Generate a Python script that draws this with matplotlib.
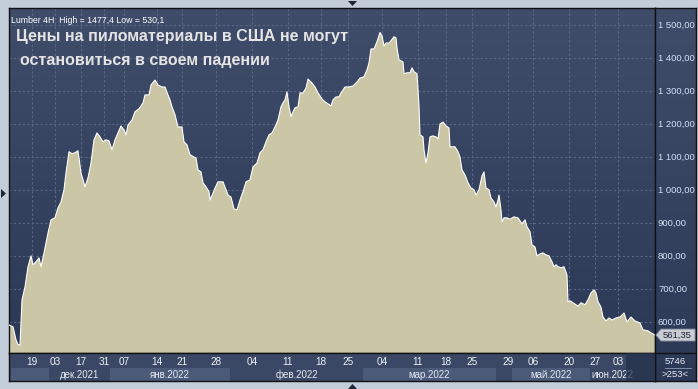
import numpy as np
import matplotlib
matplotlib.use("Agg")
import matplotlib.pyplot as plt
from matplotlib.colors import LinearSegmentedColormap
from matplotlib.patches import Polygon, Rectangle

plt.rcParams['font.family'] = ['Liberation Sans', 'DejaVu Sans']

# 4H bars (bar offset from left edge of chart) and close price
bar = [0, 4, 7, 9, 11, 13, 16, 19, 22, 24, 27, 30, 32, 35, 39, 42, 46, 49, 52, 55,
       57, 60, 63, 66, 69, 72, 76, 79, 82, 85, 88, 91, 94, 97, 100, 103, 106, 109,
       112, 115, 117, 119, 123, 126, 130, 134, 136, 140, 142, 146, 149, 153, 156,
       159, 161, 163, 166, 169, 173, 175, 178, 181, 185, 187, 189, 192, 194, 197,
       200, 201, 204, 206, 209, 214, 217, 219, 222, 225, 228, 231, 234, 237, 241,
       244, 248, 251, 254, 257, 260, 263, 266, 269, 272, 274, 276, 278, 280, 282,
       284, 286, 289, 291, 294, 297, 299, 303, 306, 309, 313, 316, 319, 322, 324,
       327, 330, 332, 336, 340, 344, 348, 351, 355, 358, 360, 362, 365, 368, 371,
       373, 375, 377, 380, 382, 385, 387, 388, 390, 394, 395, 398, 401, 403, 405,
       408, 410, 411, 414, 415, 417, 419, 421, 424, 427, 429, 431, 434, 437, 440,
       441, 446, 449, 451, 453, 456, 459, 462, 465, 467, 470, 473, 475, 477, 480,
       482, 485, 487, 489, 490, 492, 493, 495, 498, 501, 505, 509, 513, 516, 518,
       521, 523, 526, 528, 531, 534, 537, 540, 543, 545, 547, 549, 552, 555, 558,
       559, 561, 564, 569, 572, 576, 579, 582, 585, 587, 589, 592, 594, 597, 600,
       603, 607, 611, 615, 618, 622, 626, 631, 634, 639, 642, 646]
price = [592, 586, 547, 533, 530, 668, 707, 768, 801, 774, 783, 795, 768, 810,
         870, 910, 916, 946, 964, 1001, 1052, 1116, 1110, 1113, 1119, 1052, 1010,
         1037, 1082, 1152, 1173, 1161, 1146, 1152, 1149, 1122, 1152, 1173, 1194,
         1182, 1167, 1197, 1212, 1237, 1246, 1264, 1288, 1288, 1318, 1333, 1318,
         1312, 1312, 1288, 1273, 1252, 1228, 1191, 1191, 1146, 1137, 1107, 1100,
         1097, 1061, 1055, 1022, 1010, 995, 970, 991, 1006, 1025, 1025, 1001, 985,
         979, 943, 940, 970, 995, 1025, 1031, 1070, 1082, 1113, 1122, 1146, 1167,
         1173, 1191, 1212, 1252, 1264, 1273, 1297, 1252, 1222, 1237, 1249, 1252,
         1294, 1294, 1309, 1336, 1324, 1312, 1294, 1276, 1267, 1261, 1255, 1273,
         1282, 1282, 1294, 1312, 1312, 1315, 1327, 1339, 1343, 1364, 1385, 1427,
         1427, 1449, 1477, 1467, 1436, 1445, 1445, 1452, 1464, 1461, 1430, 1394,
         1388, 1352, 1355, 1355, 1370, 1358, 1352, 1255, 1167, 1161, 1122, 1082,
         1113, 1161, 1164, 1161, 1155, 1200, 1206, 1194, 1188, 1131, 1131, 1116,
         1100, 1061, 1046, 1022, 1006, 1001, 985, 1001, 1043, 1055, 1006, 1001,
         976, 964, 949, 970, 985, 940, 904, 916, 916, 912, 919, 916, 898, 910, 889,
         874, 834, 828, 801, 807, 810, 804, 801, 783, 768, 774, 768, 765, 768, 743,
         662, 665, 659, 649, 659, 653, 668, 689, 698, 689, 662, 646, 616, 604, 613,
         607, 613, 616, 628, 601, 616, 604, 598, 577, 574, 568, 561.35]

tick_pos = [23, 46, 72, 95, 115, 148, 173, 207, 243, 279, 312, 339, 373, 409, 437,
            463, 499, 524, 560, 586, 609]
tick_lab = ['19', '03', '17', '31', '07', '14', '21', '28', '04', '11', '18', '25',
            '04', '11', '18', '25', '29', '06', '20', '27', '03']
month_edges = [2, 40, 101, 221, 354, 487, 503, 581, 646]
month_lab = ['', 'дек.2021', 'янв.2022', 'фев.2022', 'мар.2022', '', 'май.2022', 'июн.2022']
y_ticks = [600, 700, 800, 900, 1000, 1100, 1200, 1300, 1400, 1500]

W, H = 698, 389


def box(x0, y0, x1, y1):
    return [x0 / W, 1 - y1 / H, (x1 - x0) / W, (y1 - y0) / H]


def fxy(x, y):
    return (x / W, 1 - y / H)


fig = plt.figure(figsize=(W / 100, H / 100), dpi=100, facecolor='#c3ccd9')
grad = LinearSegmentedColormap.from_list('bg', ['#2b3856', '#3f4c6a'])
g = np.linspace(0, 1, 256).reshape(-1, 1)

# main chart
ax = fig.add_axes(box(9, 8, 655, 353))
ax.imshow(g, cmap=grad, extent=[0, 1, 0, 1], transform=ax.transAxes,
          aspect='auto', origin='lower', zorder=0)
ax.set_xlim(0, 646)
ax.set_ylim(507, 1551)
for v in y_ticks:
    ax.axhline(v, color='#5a6784', lw=0.8, ls=(0, (2, 2)), zorder=1)
for t in tick_pos:
    ax.axvline(t, color='#5a6784', lw=0.8, ls=(0, (2, 2)), zorder=1)
ax.fill_between(bar, price, 0, color='#cbc6a5', lw=0, zorder=2)
ax.plot(bar, price, color='white', lw=0.8, zorder=3)
ax.set_xticks([])
ax.set_yticks([])
for s in ax.spines.values():
    s.set_color('#111111')
    s.set_linewidth(1)

ax.text(0.003, 0.978, 'Lumber 4H  High = 1477,4 Low = 530,1', transform=ax.transAxes,
        color='white', fontsize=6.3, va='top', ha='left', zorder=5)
ax.text(7 / 646, 1 - 28 / 345, 'Цены на пиломатериалы в США не могут',
        transform=ax.transAxes, color='#e4e4e4', fontsize=11.5, fontweight='bold',
        va='center', ha='left', zorder=5)
ax.text(11 / 646, 1 - 53 / 345, 'остановиться в своем падении',
        transform=ax.transAxes, color='#e4e4e4', fontsize=11.5, fontweight='bold',
        va='center', ha='left', zorder=5)

# right price scale
rax = fig.add_axes(box(655, 8, 696, 381))
rax.imshow(g, cmap=grad, extent=[0, 1, 0, 1], transform=rax.transAxes,
           aspect='auto', origin='lower', zorder=0)
rax.set_xlim(0, 41)
rax.set_ylim(507 - 28 * 3.027, 1551)
rax.set_xticks([])
rax.set_yticks([])
for s in rax.spines.values():
    s.set_color('#111111')
    s.set_linewidth(1)
for v in y_ticks:
    lab = f'{v:,.2f}'.replace(',', ' ').replace('.', ',')
    rax.text(3, v, lab, color='#d2e2f6', fontsize=6.8, va='center', ha='left')
last = price[-1]
rax.add_patch(Polygon([(1, last), (6, last + 18), (40, last + 18), (40, last - 18),
                       (6, last - 18)], closed=True, facecolor='#c9ccd3',
                      edgecolor='#8a93a3', lw=0.6, zorder=3))
rax.text(22.5, last, f'{last:.2f}'.replace('.', ','), color='#1b2233', fontsize=6.8,
         va='center', ha='center', zorder=4)
rax.axhline(507, color='#111111', lw=1)
rax.text(20.5, 507 - 9 * 3.027, '5746', color='#e8ecf4', fontsize=6.8,
         va='center', ha='center')
rax.plot([10, 36], [507 - 15.5 * 3.027] * 2, color='#7f8ca4', lw=0.7)
rax.text(20.5, 507 - 22 * 3.027, '>253<', color='#e8ecf4', fontsize=6.8,
         va='center', ha='center')

# time scale
bax = fig.add_axes(box(9, 353, 655, 381))
bax.set_facecolor('#3a4865')
bax.set_xlim(0, 646)
bax.set_ylim(0, 28)
bax.set_xticks([])
bax.set_yticks([])
for s in bax.spines.values():
    s.set_color('#111111')
    s.set_linewidth(1)
for i in range(len(month_lab)):
    a, b = month_edges[i], month_edges[i + 1]
    if i % 2 == 0:
        bax.add_patch(Rectangle((a, 0), b - a, 13, facecolor='#4b5a79', lw=0, zorder=1))
    if month_lab[i]:
        bax.text((a + b) / 2 if i < 7 else 603, 6.5, month_lab[i], color='#e6eaf2',
                 fontsize=7, va='center', ha='center', zorder=2)
for t, lab in zip(tick_pos, tick_lab):
    bax.text(t, 19, lab, color='#eef1f6', fontsize=7.2, va='center', ha='center', zorder=2)
bax.add_patch(Rectangle((617, 0), 29, 28, facecolor='#243048', alpha=0.7, lw=0, zorder=3))

# scroll markers
for pts in ([(348, 1), (357, 1), (352.5, 6)], [(348, 389), (357, 389), (352.5, 384)],
            [(1, 189), (1, 198), (6, 193.5)]):
    fig.add_artist(Polygon([fxy(*p) for p in pts], closed=True,
                           facecolor='#1d2536', lw=0, transform=fig.transFigure))

fig.savefig('out.png', dpi=100, facecolor=fig.get_facecolor())
